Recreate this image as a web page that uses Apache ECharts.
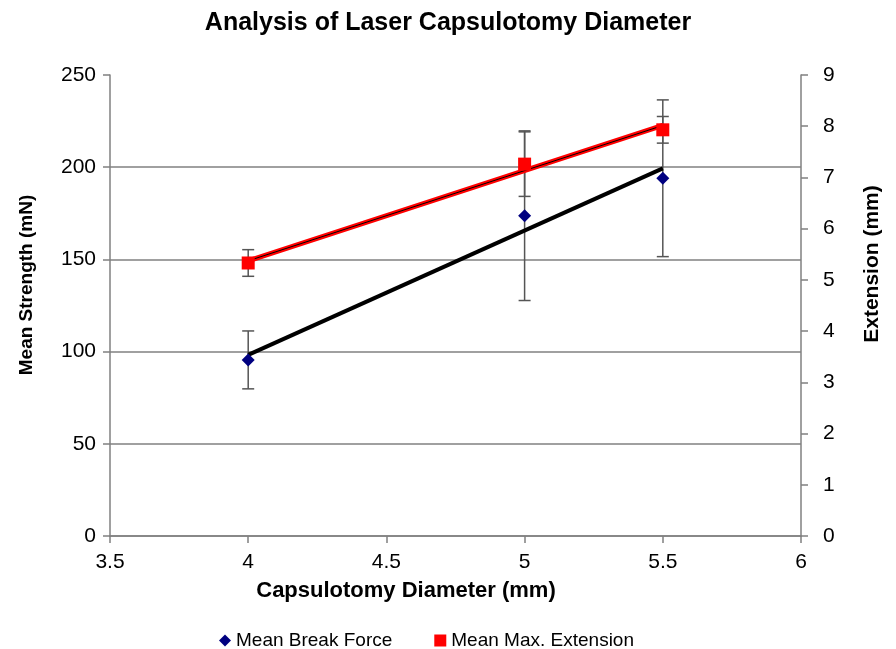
<!DOCTYPE html>
<html><head><meta charset="utf-8">
<script src="https://cdn.jsdelivr.net/npm/echarts@6/dist/echarts.min.js"></script>
<style>html,body{margin:0;padding:0;background:#fff}#c{width:896px;height:649px}</style>
</head><body><div id="c"></div>
<script>
var diameters = [4, 5, 5.5];
var breakForce = [95.5, 173.7, 194.0];
var breakForceErr = [15.7, 46, 42.5];
var maxExtension = [5.33, 7.26, 7.93];
var maxExtensionErr = [0.26, 0.63, 0.26];
var leftTicks = [0, 50, 100, 150, 200, 250];
var rightTicks = [0, 1, 2, 3, 4, 5, 6, 7, 8, 9];

function regress(xs, ys) {
  var n = xs.length, mx = 0, my = 0;
  for (var i = 0; i < n; i++) { mx += xs[i]; my += ys[i]; }
  mx /= n; my /= n;
  var sxy = 0, sxx = 0;
  for (var i = 0; i < n; i++) { sxy += (xs[i]-mx)*(ys[i]-my); sxx += (xs[i]-mx)*(xs[i]-mx); }
  var b = sxy / sxx, a = my - b * mx;
  var x0 = Math.min.apply(null, xs), x1 = Math.max.apply(null, xs);
  return [[x0, a + b*x0], [x1, a + b*x1]];
}
function errData(xs, ys, es) {
  return xs.map(function (x, i) { return [x, ys[i] - es[i], ys[i] + es[i]]; });
}
function errRender(params, api) {
  var x = api.value(0);
  var lo = api.coord([x, api.value(1)]);
  var hi = api.coord([x, api.value(2)]);
  var w = 6;
  var st = { stroke: '#555', lineWidth: 1.5 };
  return { type: 'group', children: [
    { type: 'line', shape: { x1: lo[0], y1: lo[1], x2: hi[0], y2: hi[1] }, style: st },
    { type: 'line', shape: { x1: lo[0]-w, y1: lo[1], x2: lo[0]+w, y2: lo[1] }, style: st },
    { type: 'line', shape: { x1: hi[0]-w, y1: hi[1], x2: hi[0]+w, y2: hi[1] }, style: st }
  ]};
}
var F = 'Arial, "Liberation Sans", sans-serif';
var G = '#808080';
var chart = echarts.init(document.getElementById('c'));
var axisLine = { show: true, lineStyle: { color: G, width: 1.5 } };
var axisTick = { show: true, length: 7, lineStyle: { color: G, width: 1.5 } };
chart.setOption({
  animation: false,
  title: { text: 'Analysis of Laser Capsulotomy Diameter', left: 'center', top: 6,
    textStyle: { fontFamily: F, fontSize: 25, fontWeight: 'bold', color: '#000' } },
  legend: { top: 626, left: 214, itemGap: 42, itemWidth: 12, itemHeight: 12,
    textStyle: { fontFamily: F, fontSize: 19, color: '#000' },
    data: [{ name: 'Mean Break Force', icon: 'diamond' }, { name: 'Mean Max. Extension', icon: 'rect' }] },
  grid: { left: 110, right: 95, top: 75, bottom: 113 },
  xAxis: { type: 'value', min: 3.5, max: 6, interval: 0.5,
    axisLine: axisLine, axisTick: axisTick, splitLine: { show: false },
    axisLabel: { fontFamily: F, fontSize: 21, color: '#000', margin: 16 } },
  yAxis: [
    { type: 'value', min: 0, max: 250, interval: 50, position: 'left',
      axisLine: axisLine, axisTick: axisTick,
      splitLine: { show: true, lineStyle: { color: [G, G, G, G, G, 'rgba(0,0,0,0)'], width: 1.5 } },
      axisLabel: { fontFamily: F, fontSize: 21, color: '#000', margin: 14,
        formatter: function (v) { return leftTicks.indexOf(v) >= 0 ? String(v) : ''; } } },
    { type: 'value', min: 0, max: 9, interval: 1, position: 'right',
      axisLine: axisLine, axisTick: axisTick, splitLine: { show: false },
      axisLabel: { fontFamily: F, fontSize: 21, color: '#000', margin: 22,
        formatter: function (v) { return rightTicks.indexOf(v) >= 0 ? String(v) : ''; } } }
  ],
  graphic: [
    { type: 'text', x: 406, y: 591, style: { text: 'Capsulotomy Diameter (mm)', fontFamily: F, fontSize: 22, fontWeight: 'bold', fill: '#000', align: 'center', verticalAlign: 'middle' } },
    { type: 'text', x: 27, y: 285, rotation: Math.PI/2, style: { text: 'Mean Strength (mN)', fontFamily: F, fontSize: 19, fontWeight: 'bold', fill: '#000', align: 'center', verticalAlign: 'middle' } },
    { type: 'text', x: 872, y: 264, rotation: Math.PI/2, style: { text: 'Extension (mm)', fontFamily: F, fontSize: 21, fontWeight: 'bold', fill: '#000', align: 'center', verticalAlign: 'middle' } }
  ],
  series: [
    { name: 'BreakErr', type: 'custom', yAxisIndex: 0, renderItem: errRender, data: errData(diameters, breakForce, breakForceErr), z: 2, silent: true },
    { name: 'ExtErr', type: 'custom', yAxisIndex: 1, renderItem: errRender, data: errData(diameters, maxExtension, maxExtensionErr), z: 2, silent: true },
    { name: 'BreakTrend', type: 'line', yAxisIndex: 0, data: regress(diameters, breakForce), symbol: 'none', lineStyle: { color: '#000', width: 4 }, z: 3 },
    { name: 'ExtTrendRed', type: 'line', yAxisIndex: 1, data: regress(diameters, maxExtension), symbol: 'none', lineStyle: { color: '#ff0000', width: 5 }, z: 3 },
    { name: 'ExtTrendBlack', type: 'line', yAxisIndex: 1, data: regress(diameters, maxExtension), symbol: 'none', lineStyle: { color: '#000', width: 1 }, z: 4 },
    { name: 'Mean Break Force', type: 'scatter', yAxisIndex: 0, symbol: 'diamond', symbolSize: 13,
      itemStyle: { color: '#000080', opacity: 1 }, data: diameters.map(function (x, i) { return [x, breakForce[i]]; }), z: 5 },
    { name: 'Mean Max. Extension', type: 'scatter', yAxisIndex: 1, symbol: 'rect', symbolSize: 13,
      itemStyle: { color: '#ff0000', opacity: 1 }, data: diameters.map(function (x, i) { return [x, maxExtension[i]]; }), z: 5 }
  ]
});
</script></body></html>
